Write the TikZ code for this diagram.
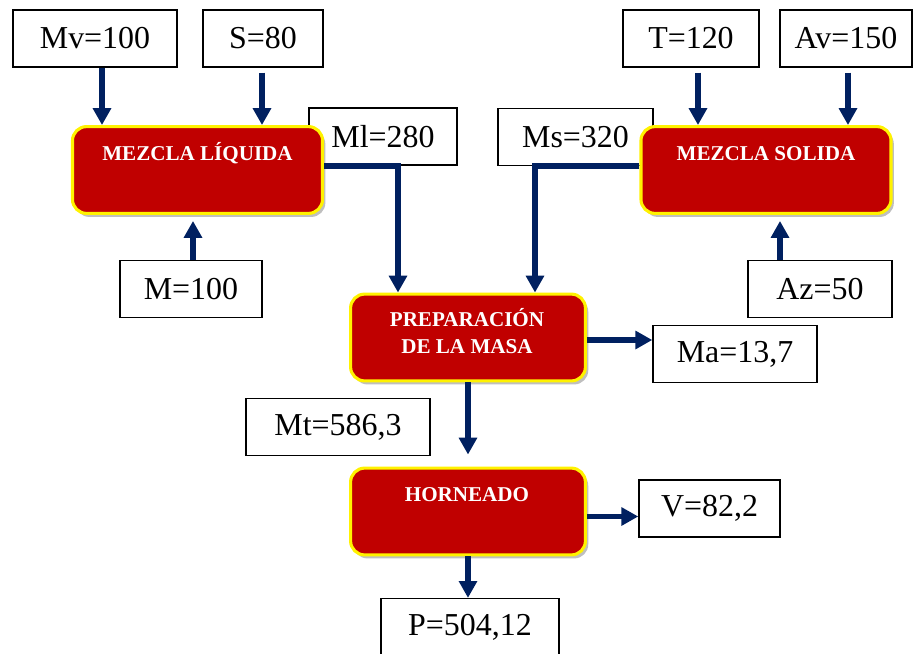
\documentclass[tikz,border=0pt]{standalone}
\usepackage{fontspec}
\setmainfont{Liberation Serif}
\usetikzlibrary{calc,arrows.meta,shadows}

\definecolor{rojo}{HTML}{C00000}
\definecolor{azul}{HTML}{002060}

\tikzset{
  dato/.style={draw=black, line width=1pt, fill=white, rectangle, inner sep=0pt,
               minimum height=1.42cm, font=\fontsize{22.7}{27}\selectfont},
  proceso/.style={draw=yellow, line width=2.2pt, fill=rojo, rounded corners=10pt,
               minimum width=6.25cm, minimum height=2.17cm,
               drop shadow={shadow xshift=2pt, shadow yshift=-2.5pt, fill=black!25, opacity=1}},
  rotulo/.style={text=white, font=\fontsize{15}{18.5}\selectfont\bfseries,
               inner sep=0pt, align=center, anchor=base},
  flujo/.style={draw=azul, line width=4pt, -{Triangle[width=12.5pt,length=12pt]}}
}

\begin{document}
\begin{tikzpicture}[x=0.025cm, y=-0.025cm]
        \useasboundingbox (0,0) rectangle (920,653);
        %% corrientes
        \node[dato, minimum width=4.1cm]   (mv) at (95,38.5)    {Mv=100};
        \node[dato, minimum width=3cm]     (s)  at (263,38.5)   {S=80};
        \node[dato, minimum width=3.4cm]   (t)  at (691,38.5)   {T=120};
        \node[dato, minimum width=3.3cm]   (av) at (846,38.5)   {Av=150};
        \node[dato, minimum width=3.7cm]   (ml) at (383,136.5)  {Ml=280};
        \node[dato, minimum width=3.875cm] (ms) at (575.5,137)  {Ms=320};
        \node[dato, minimum width=3.55cm]  (m)  at (191,289)    {M=100};
        \node[dato, minimum width=3.6cm]   (az) at (820,289)    {Az=50};
        \node[dato, minimum width=4.1cm]   (ma) at (735,354)    {Ma=13,7};
        \node[dato, minimum width=4.6cm]   (mt) at (338,427)    {Mt=586,3};
        \node[dato, minimum width=3.525cm] (v)  at (709.5,508.5) {V=82,2};
        \node[dato, minimum width=4.45cm]  (p)  at (470,627)    {P=504,12};
        %% procesos
        \node[proceso] (liq) at (197.5,170) {};
        \node[proceso] (sol) at (766,170) {};
        \node[proceso, minimum width=5.87cm] (prep) at (468,337.5) {};
        \node[proceso, minimum width=5.87cm] (horn) at (468,511.5) {};
        \node[rotulo] (liqtxt)  at (197.5,160) {MEZCLA LÍQUIDA};
        \node[rotulo] (soltxt)  at (766,160)   {MEZCLA SOLIDA};
        \node[rotulo] (preptxt) at (467,353)   {PREPARACIÓN\\DE LA MASA};
        \node[rotulo] (horntxt) at (467,501)   {HORNEADO};
        %% puntos de las flechas
        \coordinate (mvout)  at ($(mv.south)+(7,0)$);
        \coordinate (sout)   at ($(s.south)+(-1,5)$);
        \coordinate (tout)   at ($(t.south)+(7,5)$);
        \coordinate (avout)  at ($(av.south)+(2,5)$);
        \coordinate (min)    at ($(m.north)+(2,0)$);
        \coordinate (azin)   at ($(az.north)+(-40,0)$);
        \coordinate (liqout) at ($(liq.east)+(0,-4)$);
        \coordinate (solout) at ($(sol.west)+(0,-4)$);
        \coordinate (mldown) at ($(prep.north)+(-70,0)$);
        \coordinate (msdown) at ($(prep.north)+(67,0)$);
        \coordinate (prepout) at ($(prep.east)+(0,2.5)$);
        \coordinate (hornout) at ($(horn.east)+(0,5)$);
        %% flechas de entrada
        \draw[flujo] (mvout) -- (mvout |- liq.north);
        \draw[flujo] (sout)  -- (sout |- liq.north);
        \draw[flujo] (tout)  -- (tout |- sol.north);
        \draw[flujo] (avout) -- (avout |- sol.north);
        \draw[flujo, shorten >=0.15cm] (min)  -- (min |- liq.south);
        \draw[flujo, shorten >=0.15cm] (azin) -- (azin |- sol.south);
        %% mezclas a la preparacion
        \draw[flujo] (liqout) -| (mldown);
        \draw[flujo] (solout) -| (msdown);
        %% salidas
        \draw[flujo] (prepout) -- (prepout -| ma.west);
        \draw[flujo, shorten >=0.3cm] (prep.south) -- (horn.north);
        \draw[flujo] (hornout) -- (hornout -| v.west);
        \draw[flujo] (horn.south) -- (horn.south |- p.north);
\end{tikzpicture}
\end{document}
